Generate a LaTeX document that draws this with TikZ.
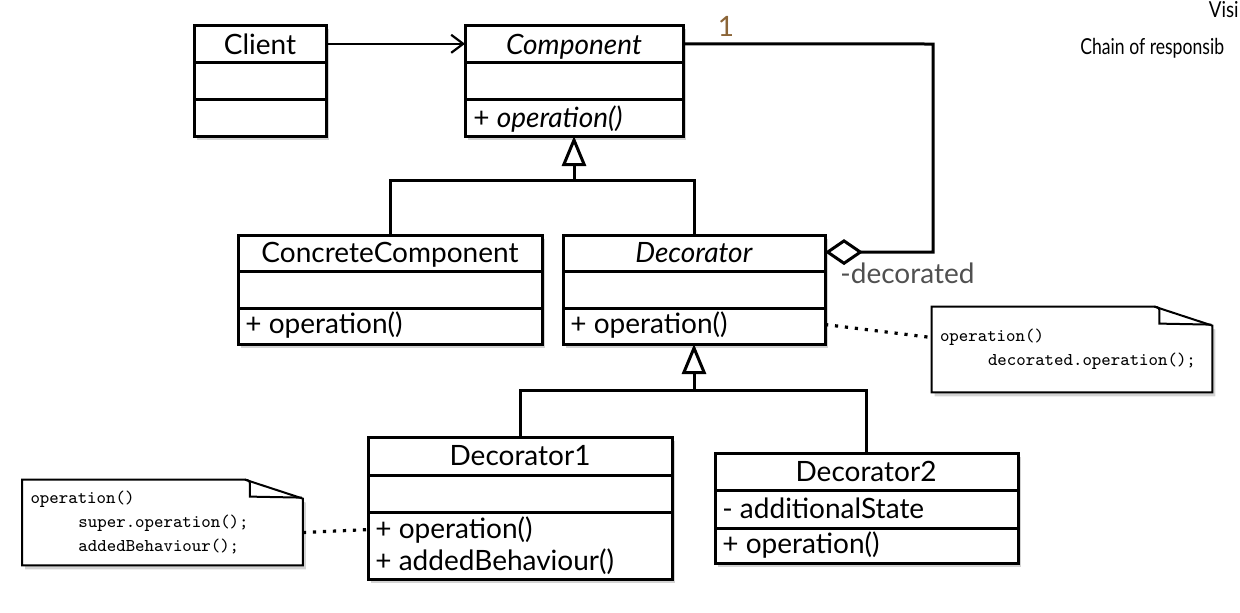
\documentclass[tikz,border=0pt]{standalone}
\usepackage{fontspec}
\setmainfont{Lato}
\usetikzlibrary{arrows.meta,positioning,calc,shadows}
\definecolor{MultBrown}{RGB}{139,101,56}
\definecolor{RoleGrey}{RGB}{80,80,80}
\tikzset{
  >=Latex,
  classbox/.style={draw=black,line width=1.5pt,fill=white,inner sep=0pt,outer sep=0pt,drop shadow={shadow xshift=1.5pt,shadow yshift=-2pt,opacity=.35}},
  divider/.style={line width=1.5pt},
  cname/.style={font=\fontsize{14}{16}\selectfont,inner sep=0pt,anchor=base},
  member/.style={font=\fontsize{14}{16}\selectfont,inner sep=0pt,anchor=base west},
  edge/.style={line width=1.5pt},
  assoc/.style={-{Straight Barb[length=6pt,width=9pt]},line width=1.1pt},
  inherit/.style={-{Triangle[open,fill=white,length=15pt,width=12pt]},line width=1.5pt},
  aggr/.style={{Diamond[open,fill=white,length=19pt,width=13pt]}-,line width=1.5pt},
  noteline/.style={line width=1.6pt,dash pattern=on 1.6pt off 3.4pt},
  notetext/.style={font=\fontsize{9}{12}\selectfont\ttfamily,align=left,text width=132pt,inner xsep=4pt,inner ysep=0pt,minimum height=42.5pt},
  noteedge/.style={draw=black,line width=1pt,fill=white,drop shadow={shadow xshift=1.5pt,shadow yshift=-2pt,opacity=.35}},
  label/.style={font=\fontsize{14}{16}\selectfont,inner sep=0pt}
}
% class box: name, left, top, right, divider 1, divider 2, bottom
\newcommand{\umlclass}[7]{%
  \node[classbox,minimum width={(#4-#2)*0.5pt},minimum height={(#7-#3)*0.5pt}] (#1) at ({(#2+#4)/2},{(#3+#7)/2}) {};
  \draw[divider] (#2,#5) -- (#4,#5) (#2,#6) -- (#4,#6);
}
% folded corner round a note node
\newcommand{\notefold}[1]{%
  \draw[noteedge] (#1.north west) -- ($(#1.north east)+(-58,0)$) -- ($(#1.north east)+(0,19)$) -- (#1.south east) -- (#1.south west) -- cycle;
  \draw[line width=1pt] ($(#1.north east)+(-58,0)$) .. controls ($(#1.north east)+(-53,1)$) .. ($(#1.north east)+(-53,7)$) -- ($(#1.north east)+(-53,17)$) -- ($(#1.north east)+(-1,18)$);
}

\begin{document}
\begin{tikzpicture}[x=0.5pt,y=-0.5pt]
  \useasboundingbox (0,0) rectangle (1240,612);
  % classes
  \umlclass{client}{194}{25}{326}{62}{99}{136}
  \umlclass{component}{465}{25}{683}{62}{99}{136}
  \umlclass{concrete}{238}{235}{542}{271}{308}{344}
  \umlclass{decorator}{563}{235}{825}{271}{308}{344}
  \umlclass{dec1}{368}{437}{672}{475}{512}{579}
  \umlclass{dec2}{715}{453}{1018}{490}{528}{563}
  \node[cname] (clientN) at (260,54) {Client};
  \node[cname] (compN) at (574,54) {\textit{Component}};
  \node[cname] (concreteN) at (390,262) {ConcreteComponent};
  \node[cname] (decoN) at (694,262) {\textit{Decorator}};
  \node[cname] (dec1N) at (520,465) {Decorator1};
  \node[cname] (dec2N) at (866,481) {Decorator2};
  \node[member] (compOp) at (473,127) {+ \textit{operation()}};
  \node[member] (concreteOp) at (245,333) {+ operation()};
  \node[member] (decoOp) at (570,333) {+ operation()};
  \node[member] (dec1Op) at (375,538) {+ operation()};
  \node[member] (dec1Added) at (375,570) {+ addedBehaviour()};
  \node[member] (dec2State) at (722,518) {- additionalState};
  \node[member] (dec2Op) at (722,553) {+ operation()};
  % connectors
  \draw[assoc] (client.east |- clientN) -- (component.west |- clientN);
  \coordinate (splitA) at (574,180);
  \draw[edge] (concrete.north) |- (splitA) -| (decorator.north);
  \draw[inherit] (splitA) -- (component.south);
  \coordinate (splitB) at (694,390);
  \draw[edge] (dec1.north) |- (splitB) -| (dec2.north);
  \draw[inherit] (splitB) -- (decorator.south);
  \coordinate (aggCorner) at (933,44);
  \draw[aggr] (decorator.east |- decoN) -| (aggCorner) -- (component.east |- clientN);
  \node[label,text=MultBrown] (mult) at (726,26) {1};
  \node[label,text=RoleGrey,anchor=west] (role) at (840,273) {-decorated};
  % notes
  \node[notetext] (note1) at (1072,349.5) {operation()\\\hspace*{24pt}decorated.operation();};
  \notefold{note1}
  \node[notetext] at (note1) {operation()\\\hspace*{24pt}decorated.operation();};
  \node[notetext] (note2) at (162.5,522.5) {operation()\\\hspace*{24pt}super.operation();\\\hspace*{24pt}addedBehaviour();};
  \notefold{note2}
  \node[notetext] at (note2) {operation()\\\hspace*{24pt}super.operation();\\\hspace*{24pt}addedBehaviour();};
  \draw[noteline] (decorator.east |- decoOp) -- ($(note1.west)+(0,-12)$);
  \draw[noteline] ($(note2.east)+(0,10)$) -- (dec1.west |- dec1Op);
  % neighbouring pages
  \node[label,font=\fontsize{11}{13}\selectfont,anchor=north east] (visitor) at (1239,1) {\scalebox{0.85}[1]{Visi}};
  \node[label,font=\fontsize{11}{13}\selectfont,anchor=west] (chain) at (1080,48) {\scalebox{0.8}[1]{Chain of responsib}};
\end{tikzpicture}
\end{document}
